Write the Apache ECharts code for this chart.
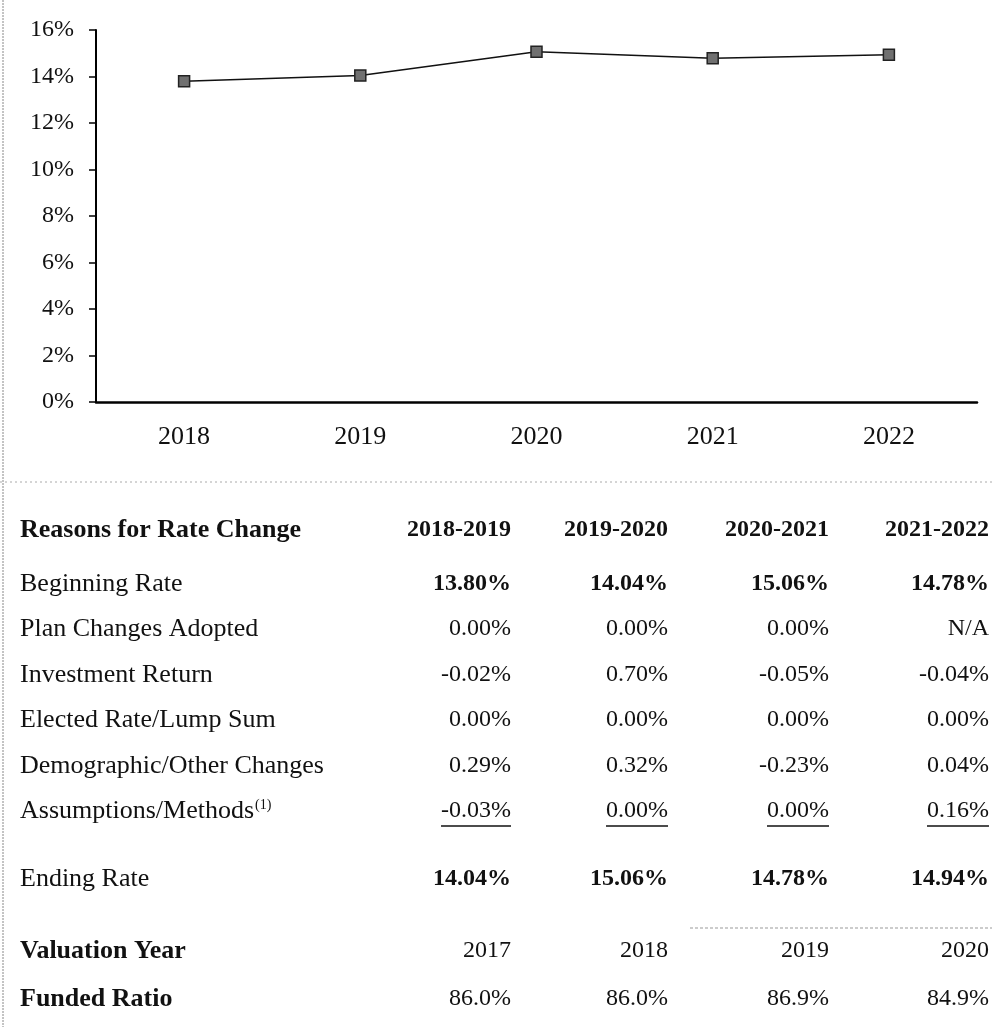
<!DOCTYPE html>
<html>
<head>
<meta charset="utf-8">
<script src="https://cdn.jsdelivr.net/npm/echarts@6/dist/echarts.min.js"></script>
<style>
  html, body { margin: 0; padding: 0; background: #fff; }
  #main { width: 992px; height: 1027px; }
</style>
</head>
<body>
<div id="main"></div>
<script>
// chart data
const years = ['2018', '2019', '2020', '2021', '2022'];
const rates = [13.80, 14.04, 15.06, 14.78, 14.94];

// table data
const periods = ['2018-2019', '2019-2020', '2020-2021', '2021-2022'];
const beginningRate = ['13.80%', '14.04%', '15.06%', '14.78%'];
const planChanges = ['0.00%', '0.00%', '0.00%', 'N/A'];
const investmentReturn = ['-0.02%', '0.70%', '-0.05%', '-0.04%'];
const electedRate = ['0.00%', '0.00%', '0.00%', '0.00%'];
const demographic = ['0.29%', '0.32%', '-0.23%', '0.04%'];
const assumptions = ['-0.03%', '0.00%', '0.00%', '0.16%'];
const endingRate = ['14.04%', '15.06%', '14.78%', '14.94%'];
const valuationYear = ['2017', '2018', '2019', '2020'];
const fundedRatio = ['86.0%', '86.0%', '86.9%', '84.9%'];

const FONT = '"Liberation Serif", "DejaVu Serif", serif';
const FS = 24;   // numbers
const LFS = 26;  // row labels

// rows of the table : label, values, bold label, bold values, y
const rows = [
  { label: 'Reasons for Rate Change', vals: periods, bl: true, bv: true, y: 530 },
  { label: 'Beginning Rate', vals: beginningRate, bl: false, bv: true, y: 584 },
  { label: 'Plan Changes Adopted', vals: planChanges, bl: false, bv: false, y: 629 },
  { label: 'Investment Return', vals: investmentReturn, bl: false, bv: false, y: 675 },
  { label: 'Elected Rate/Lump Sum', vals: electedRate, bl: false, bv: false, y: 720 },
  { label: 'Demographic/Other Changes', vals: demographic, bl: false, bv: false, y: 766 },
  { label: 'Assumptions/Methods', vals: assumptions, bl: false, bv: false, y: 811, sup: '(1)', under: true },
  { label: 'Ending Rate', vals: endingRate, bl: false, bv: true, y: 879 },
  { label: 'Valuation Year', vals: valuationYear, bl: true, bv: false, y: 951 },
  { label: 'Funded Ratio', vals: fundedRatio, bl: true, bv: false, y: 999 }
];
const colRight = [511, 668, 829, 989];

const ctx = document.createElement('canvas').getContext('2d');
function textW(t, bold, size) {
  ctx.font = (bold ? 'bold ' : '') + size + 'px ' + FONT;
  return ctx.measureText(t).width;
}

const graphics = [];
// left page border + separators
graphics.push({ type: 'line', shape: { x1: 3, y1: 0, x2: 3, y2: 1027 },
  style: { stroke: '#888', lineWidth: 1, lineDash: [2, 1] } });
graphics.push({ type: 'line', shape: { x1: 0, y1: 482, x2: 992, y2: 482 },
  style: { stroke: '#aaa', lineWidth: 1, lineDash: [2, 3] } });
graphics.push({ type: 'line', shape: { x1: 690, y1: 928, x2: 992, y2: 928 },
  style: { stroke: '#999', lineWidth: 1, lineDash: [3, 2] } });

rows.forEach(function (r) {
  graphics.push({ type: 'text', x: 20, y: r.y,
    style: { text: r.label, font: (r.bl ? 'bold ' : '') + LFS + 'px ' + FONT,
      fill: '#111', textAlign: 'left', textVerticalAlign: 'middle' } });
  if (r.sup) {
    graphics.push({ type: 'text', x: 20 + textW(r.label, r.bl, LFS) + 1, y: r.y - 6,
      style: { text: r.sup, font: '14px ' + FONT, fill: '#111',
        textAlign: 'left', textVerticalAlign: 'middle' } });
  }
  r.vals.forEach(function (v, i) {
    graphics.push({ type: 'text', x: colRight[i], y: r.y,
      style: { text: v, font: (r.bv ? 'bold ' : '') + FS + 'px ' + FONT,
        fill: '#111', textAlign: 'right', textVerticalAlign: 'middle' } });
    if (r.under) {
      const w = textW(v, r.bv, FS);
      graphics.push({ type: 'line', shape: { x1: colRight[i] - w, y1: r.y + 15, x2: colRight[i], y2: r.y + 15 },
        style: { stroke: '#111', lineWidth: 1.5 } });
    }
  });
});

const chart = echarts.init(document.getElementById('main'));
chart.setOption({
  animation: false,
  backgroundColor: '#fff',
  grid: { left: 96, right: 15, top: 30, bottom: 625 },
  xAxis: {
    type: 'category',
    data: years,
    boundaryGap: true,
    axisLine: { lineStyle: { color: '#000', width: 2.5 } },
    axisTick: { show: false },
    axisLabel: { color: '#111', fontFamily: FONT, fontSize: 26, margin: 22 }
  },
  yAxis: {
    type: 'value',
    min: 0,
    max: 16,
    interval: 2,
    splitLine: { show: false },
    axisLine: { show: true, lineStyle: { color: '#000', width: 2 } },
    axisTick: { show: true, length: 7, lineStyle: { color: '#000', width: 1.5 } },
    axisLabel: { color: '#111', fontFamily: FONT, fontSize: FS, margin: 22,
      formatter: '{value}%' }
  },
  series: [{
    type: 'line',
    data: rates,
    symbol: 'rect',
    symbolSize: 11,
    lineStyle: { color: '#111', width: 1.5 },
    itemStyle: { color: '#707070', borderColor: '#222', borderWidth: 1.5 }
  }],
  graphic: graphics
});
</script>
</body>
</html>
